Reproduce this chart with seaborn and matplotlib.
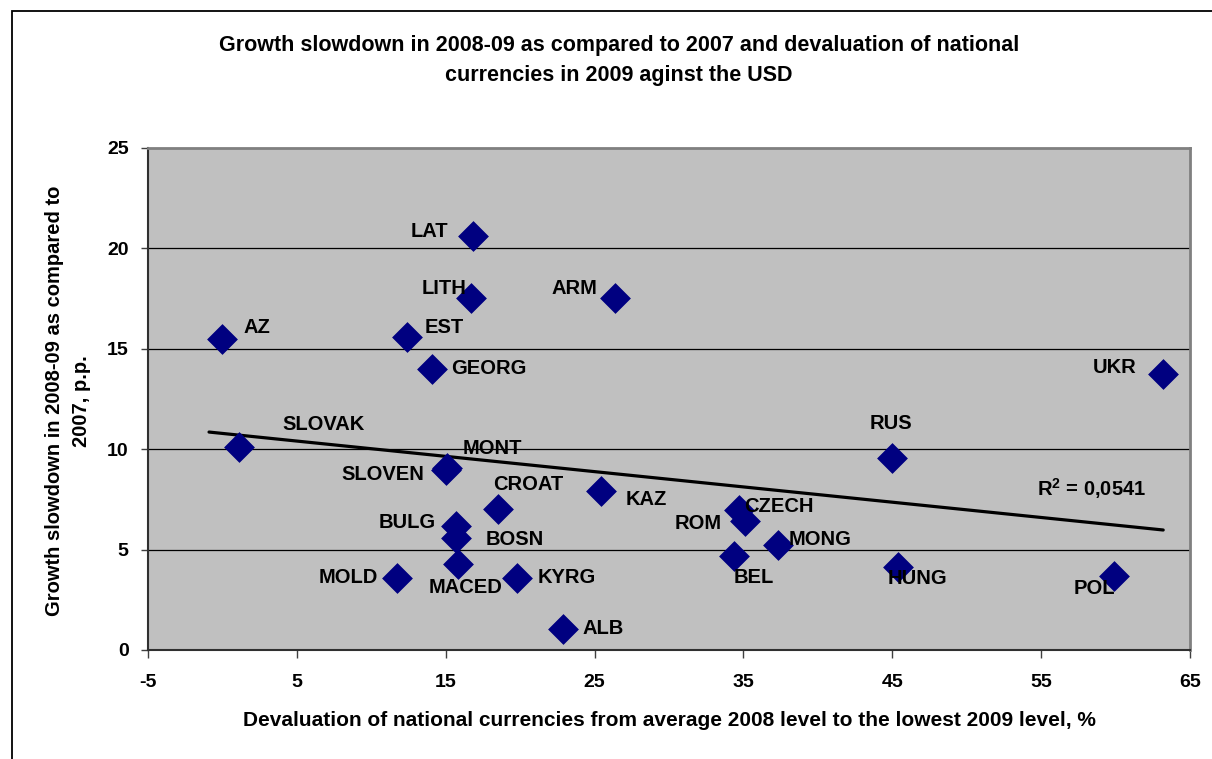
"""
plot.py — Growth slowdown vs. currency devaluation scatter (Excel-style).
"""

import numpy as np
import pandas as pd
import matplotlib
matplotlib.use('Agg')
import matplotlib.pyplot as plt
import seaborn as sns

# ── Data ─────────────────────────────────────────────────────────────────────
COUNTRIES = ['AZ', 'LAT', 'LITH', 'ARM', 'EST', 'GEORG', 'SLOVAK', 'MONT',
             'SLOVEN', 'CROAT', 'KAZ', 'BULG', 'BOSN', 'MOLD', 'MACED',
             'KYRG', 'ALB', 'UKR', 'RUS', 'CZECH', 'ROM', 'MONG', 'BEL',
             'HUNG', 'POL']
DEVALUATION = [0.0, 16.8, 16.7, 26.4, 12.4, 14.1, 1.1, 15.1,
               15.0, 18.5, 25.4, 15.7, 15.7, 11.7, 15.8,
               19.8, 22.9, 63.2, 45.0, 34.7, 35.1, 37.3, 34.4,
               45.4, 59.9]
SLOWDOWN = [15.5, 20.6, 17.55, 17.55, 15.6, 14.0, 10.1, 9.05,
            8.95, 7.0, 7.9, 6.2, 5.6, 3.6, 4.3,
            3.6, 1.05, 13.75, 9.55, 6.95, 6.4, 5.25, 4.7,
            4.15, 3.7]
R2_TEXT = 'R$^2$ = 0,0541'

X_TICKS = [-5, 5, 15, 25, 35, 45, 55, 65]
Y_TICKS = [0, 5, 10, 15, 20, 25]

# ── Label placement (offset in pixels, horizontal alignment) ────────────────
LABEL_POS = {
    'AZ':     (21, 11, 'left'),   'LAT':    (-24, 5, 'right'),
    'LITH':   (-5, 9, 'right'),   'ARM':    (-18, 9, 'right'),
    'EST':    (18, 9, 'left'),    'GEORG':  (19, 0, 'left'),
    'SLOVAK': (44, 23, 'left'),   'MONT':   (15, 20, 'left'),
    'SLOVEN': (-21, -4, 'right'), 'CROAT':  (-5, 25, 'left'),
    'KAZ':    (25, -8, 'left'),   'BULG':   (-20, 3, 'right'),
    'BOSN':   (29, -2, 'left'),   'MOLD':   (-19, 0, 'right'),
    'MACED':  (8, -24, 'center'), 'KYRG':   (20, 0, 'left'),
    'ALB':    (19, 0, 'left'),    'UKR':    (-27, 6, 'right'),
    'RUS':    (-1, 35, 'center'), 'CZECH':  (5, 4, 'left'),
    'ROM':    (-23, -2, 'right'), 'MONG':   (11, 5, 'left'),
    'BEL':    (-1, -22, 'left'),  'HUNG':   (-11, -12, 'left'),
    'POL':    (1, -13, 'right'),
}

NAVY = '#000080'
PLOT_GREY = '#C0C0C0'

sns.set_theme(style='white')
plt.rcParams.update({
    'font.family': ['Liberation Sans', 'DejaVu Sans'],
    'font.weight': 'bold',
    'mathtext.default': 'regular',
    'text.color': 'black',
    'xtick.labelcolor': 'black',
    'ytick.labelcolor': 'black',
})

df = pd.DataFrame({'country': COUNTRIES, 'x': DEVALUATION, 'y': SLOWDOWN})

fig = plt.figure(figsize=(12.12, 7.59), dpi=100)
ax = fig.add_axes([148 / 1212, 1 - 650 / 759, 1042 / 1212, 502 / 759])
ax.set_facecolor(PLOT_GREY)

# outer chart frame (cropped on the right / bottom)
fig.patches.append(plt.Rectangle((12 / 1212, -0.1), 1.2, 1 - 11 / 759 + 0.1,
                                 transform=fig.transFigure, fill=False,
                                 edgecolor='black', linewidth=1.3))

# ── Gridlines ────────────────────────────────────────────────────────────────
for yv in Y_TICKS[1:-1]:
    ax.axhline(yv, color='black', linewidth=0.9, zorder=1)

# ── Trendline (linear fit) ───────────────────────────────────────────────────
slope, intercept = np.polyfit(df['x'], df['y'], 1)
tx = np.array([df['x'].min() - 0.9, df['x'].max()])
ax.plot(tx, slope * tx + intercept, color='black', linewidth=2.3, zorder=2)

# ── Points ───────────────────────────────────────────────────────────────────
sns.scatterplot(data=df, x='x', y='y', marker='D', s=230, color=NAVY,
                edgecolor=NAVY, linewidth=0.5, ax=ax, zorder=3, legend=False)

for _, row in df.iterrows():
    dx, dy, ha = LABEL_POS[row['country']]
    ax.annotate(row['country'], (row['x'], row['y']), xytext=(dx, dy),
                textcoords='offset pixels', ha=ha, va='center',
                fontsize=14.5, fontweight='bold', color='black', zorder=4)

fig.text(1037 / 1212, 1 - 489 / 759, R2_TEXT, ha='left', va='center',
         fontsize=14.5, fontweight='bold')

# ── Axes styling ─────────────────────────────────────────────────────────────
ax.set_xlim(X_TICKS[0], X_TICKS[-1])
ax.set_ylim(Y_TICKS[0], Y_TICKS[-1])
ax.set_xticks(X_TICKS)
ax.set_yticks(Y_TICKS)
ax.set_xticklabels([str(v) for v in X_TICKS], fontsize=14, fontweight='bold')
ax.set_yticklabels([str(v) for v in Y_TICKS], fontsize=14, fontweight='bold')
ax.tick_params(axis='x', direction='out', length=6, width=1, color='#404040',
               pad=11, bottom=True)
ax.tick_params(axis='y', direction='out', length=5, width=1, color='#404040',
               pad=9, left=True)
ax.set_xlabel('')
ax.set_ylabel('')
for side in ['left', 'bottom']:
    ax.spines[side].set_color('#303030')
    ax.spines[side].set_linewidth(1.5)
for side in ['top', 'right']:
    ax.spines[side].set_color('#808080')
    ax.spines[side].set_linewidth(2)

# ── Titles ───────────────────────────────────────────────────────────────────
fig.text(619 / 1212, 1 - 60.5 / 759,
         'Growth slowdown in 2008-09 as compared to 2007 and devaluation of national\n'
         'currencies in 2009 aginst the USD',
         ha='center', va='center', fontsize=15.5, fontweight='bold',
         linespacing=1.55)
fig.text(669 / 1212, 1 - 721 / 759,
         'Devaluation of national currencies from average 2008 level to the lowest 2009 level, %',
         ha='center', va='center', fontsize=15, fontweight='bold')
fig.text(68 / 1212, 1 - 401 / 759,
         'Growth slowdown in 2008-09 as compared to\n2007, p.p.',
         ha='center', va='center', rotation=90, fontsize=14.5,
         fontweight='bold', linespacing=1.55, multialignment='center')

fig.savefig('out.png', dpi=100)
plt.close(fig)
